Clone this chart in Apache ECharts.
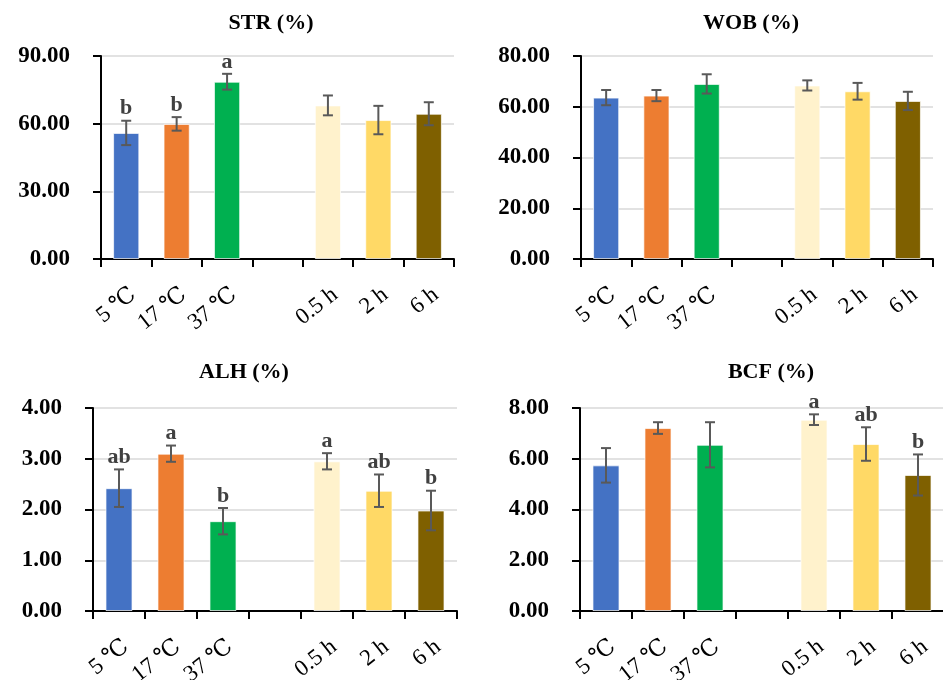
<!DOCTYPE html>
<html>
<head>
<meta charset="utf-8">
<script src="https://cdn.jsdelivr.net/npm/echarts@6/dist/echarts.min.js"></script>
<style>html,body{margin:0;padding:0;background:#fff}#c{width:943px;height:680px}</style>
</head>
<body>
<div id="c"></div>
<script>
const categories = ['5 ℃', '17 ℃', '37 ℃', '', '0.5 h', '2 h', '6 h'];
const barColors = ['#4472C4', '#ED7D31', '#00B050', '#FFFFFF', '#FFF2CC', '#FFD966', '#7F6000'];

const strMean = [55.9, 59.9, 78.6, null, 68.1, 61.6, 64.4];
const strErr = [5.4, 3.0, 3.5, null, 4.4, 6.3, 5.1];
const strLetters = ['b', 'b', 'a', '', '', '', ''];

const wobMean = [63.6, 64.4, 69.0, null, 68.4, 66.1, 62.3];
const wobErr = [3.0, 2.2, 3.8, null, 2.0, 3.3, 3.6];
const wobLetters = ['', '', '', '', '', '', ''];

const alhMean = [2.42, 3.10, 1.77, null, 2.95, 2.37, 1.98];
const alhErr = [0.37, 0.16, 0.26, null, 0.16, 0.32, 0.39];
const alhLetters = ['ab', 'a', 'b', '', 'a', 'ab', 'b'];

const bcfMean = [5.74, 7.21, 6.55, null, 7.54, 6.58, 5.36];
const bcfErr = [0.68, 0.23, 0.89, null, 0.21, 0.66, 0.81];
const bcfLetters = ['', '', '', '', 'a', 'ab', 'b'];

const panels = [
  { title: 'STR (%)', mean: strMean, err: strErr, letters: strLetters, max: 90, interval: 30,
    grid: { left: 101, top: 56, width: 353, height: 203 }, titlePos: [271, 12] },
  { title: 'WOB (%)', mean: wobMean, err: wobErr, letters: wobLetters, max: 80, interval: 20,
    grid: { left: 581, top: 56, width: 352, height: 203 }, titlePos: [751, 12] },
  { title: 'ALH (%)', mean: alhMean, err: alhErr, letters: alhLetters, max: 4, interval: 1,
    grid: { left: 93, top: 408, width: 364, height: 203 }, titlePos: [244, 361] },
  { title: 'BCF (%)', mean: bcfMean, err: bcfErr, letters: bcfLetters, max: 8, interval: 2,
    grid: { left: 580, top: 408, width: 364, height: 203 }, titlePos: [771, 361] }
];

const serif = '"Liberation Serif", "DejaVu Serif", serif';
const option = { animation: false, backgroundColor: '#fff', title: [], grid: [], xAxis: [], yAxis: [], series: [] };

panels.forEach((p, k) => {
  option.title.push({
    text: p.title, left: p.titlePos[0], top: p.titlePos[1], textAlign: 'center', padding: 0,
    textStyle: { fontFamily: serif, fontWeight: 'bold', fontSize: 22, color: '#000' }
  });
  option.grid.push(Object.assign({ containLabel: false, outerBoundsMode: 'none' }, p.grid));
  option.xAxis.push({
    type: 'category', gridIndex: k, data: categories, boundaryGap: true,
    axisLine: { show: true, lineStyle: { color: '#000', width: 2 } },
    axisTick: { show: true, length: 8, interval: 0, lineStyle: { color: '#000', width: 2 } },
    axisLabel: { interval: 0, rotate: 38, margin: 24, verticalAlign: 'top',
      fontFamily: serif, fontSize: 23, color: '#000' },
    splitLine: { show: false }
  });
  option.yAxis.push({
    type: 'value', gridIndex: k, min: 0, max: p.max, interval: p.interval,
    axisLine: { show: true, lineStyle: { color: '#000', width: 2 } },
    axisTick: { show: true, length: 8, lineStyle: { color: '#000', width: 2 } },
    axisLabel: { margin: 31, fontFamily: serif, fontWeight: 'bold', fontSize: 23, color: '#000',
      formatter: v => v.toFixed(2) },
    splitLine: { show: true, lineStyle: { color: '#d9d9d9', width: 1.5 } }
  });
  option.series.push({
    type: 'bar', xAxisIndex: k, yAxisIndex: k, barWidth: '52%',
    data: p.mean.map((v, i) => ({ value: v, itemStyle: { color: barColors[i] } })),
    itemStyle: { borderColor: 'rgba(255,255,255,0.7)', borderWidth: 1 }
  });
  option.series.push({
    type: 'custom', xAxisIndex: k, yAxisIndex: k, z: 5,
    data: p.mean.map((v, i) => [i, v, p.err[i]]).filter(d => d[1] != null),
    renderItem: function (params, api) {
      const i = api.value(0), m = api.value(1), e = api.value(2);
      const top = api.coord([i, m + e]);
      const bot = api.coord([i, m - e]);
      const hw = 5;
      const st = { stroke: '#595959', lineWidth: 2 };
      const children = [
        { type: 'line', shape: { x1: top[0], y1: top[1], x2: bot[0], y2: bot[1] }, style: st },
        { type: 'line', shape: { x1: top[0] - hw, y1: top[1], x2: top[0] + hw, y2: top[1] }, style: st },
        { type: 'line', shape: { x1: bot[0] - hw, y1: bot[1], x2: bot[0] + hw, y2: bot[1] }, style: st }
      ];
      const letter = p.letters[i];
      if (letter) {
        children.push({
          type: 'text',
          style: { text: letter, x: top[0], y: top[1] - 1, align: 'center', verticalAlign: 'bottom',
            fontFamily: serif, fontWeight: 'bold', fontSize: 22, fill: '#404040' }
        });
      }
      return { type: 'group', children: children };
    }
  });
});

const chart = echarts.init(document.getElementById('c'), null, { renderer: 'canvas' });
chart.setOption(option);
</script>
</body>
</html>
